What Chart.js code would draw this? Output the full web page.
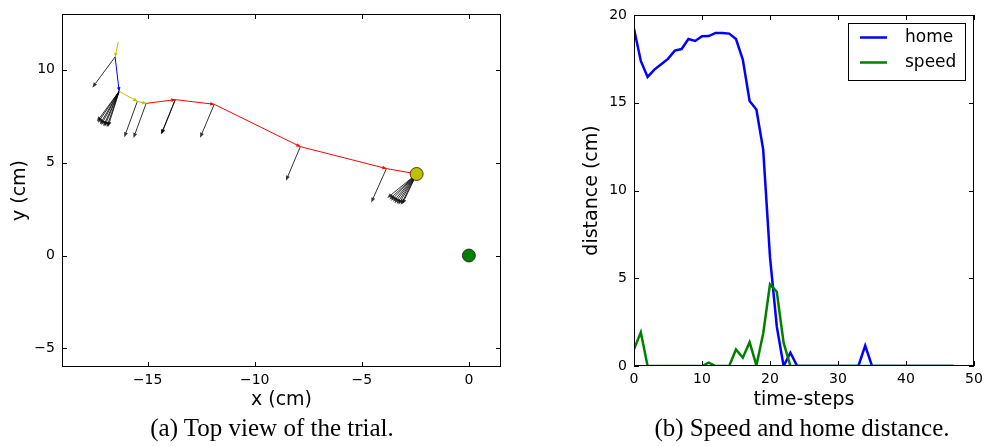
<!DOCTYPE html>
<html>
<head>
<meta charset="utf-8">
<script src="https://cdn.jsdelivr.net/npm/chart.js@4.4.1/dist/chart.umd.min.js"></script>
<style>
  body { margin: 0; background: #fff; }
  #page { position: relative; width: 984px; height: 447px; overflow: hidden; }
  .panel { position: absolute; top: 0; height: 415px; }
  #left { left: 0; width: 520px; }
  #right { left: 520px; width: 464px; }
  .caption {
    position: absolute; top: 413px; height: 30px; line-height: 30px; width: 340px;
    font-family: "Liberation Serif", "Times New Roman", serif; font-size: 25px;
    color: #000; text-align: center; white-space: nowrap;
  }
  #capA { left: 102px; }
  #capB { left: 632px; }
</style>
</head>
<body>
<div id="page">
  <div class="panel" id="left"><canvas id="topView"></canvas></div>
  <div class="panel" id="right"><canvas id="distPlot"></canvas></div>
  <div class="caption" id="capA">(a) Top view of the trial.</div>
  <div class="caption" id="capB">(b) Speed and home distance.</div>
</div>
<script>
// ========== TOP VIEW DATA (cm) ==========
const pathX = [-16.37, -16.52, -16.33, -15.48, -15.07, -13.71, -11.89, -7.87, -3.85, -2.44];
const pathY = [11.50, 10.69, 8.84, 8.30, 8.19, 8.39, 8.14, 5.86, 4.68, 4.39];
// colour of each segment, from point i to point i+1
const segColors = ["#bfbf00", "#0000ff", "#bfbf00", "#bfbf00", "#ff0000",
                   "#ff0000", "#ff0000", "#ff0000", "#ff0000"];
// heading arrows: start point and vector
const arrowX = [-16.52,
  -16.33, -16.33, -16.33, -16.33, -16.33, -16.33, -16.33, -16.33,
  -15.48, -15.07, -13.71, -13.71, -11.89, -7.87, -3.85,
  -2.44, -2.44, -2.44, -2.44, -2.44, -2.44, -2.44, -2.44, -2.44];
const arrowY = [10.69,
  8.84, 8.84, 8.84, 8.84, 8.84, 8.84, 8.84, 8.84,
  8.30, 8.19, 8.39, 8.39, 8.14, 5.86, 4.68,
  4.39, 4.39, 4.39, 4.39, 4.39, 4.39, 4.39, 4.39, 4.39];
const arrowU = [-1.06,
  -1.04, -0.99, -0.90, -0.84, -0.74, -0.68, -0.58, -0.52,
  -0.61, -0.59, -0.67, -0.64, -0.66, -0.67, -0.71,
  -1.37, -1.27, -1.20, -1.10, -1.03, -0.93, -0.85, -0.74, -0.67];
const arrowV = [-1.65,
  -1.63, -1.69, -1.78, -1.82, -1.88, -1.89, -1.93, -1.91,
  -1.93, -1.86, -1.88, -1.85, -1.80, -1.83, -1.83,
  -1.29, -1.37, -1.44, -1.50, -1.57, -1.61, -1.65, -1.66, -1.63];
const homeX = [0];
const homeY = [0];
const xTicksA = [-15, -10, -5, 0];
const yTicksA = [-5, 0, 5, 10];

// ========== SPEED / HOME DISTANCE DATA ==========
const timeSteps = [0, 1, 2, 3, 4, 5, 6, 7, 8, 9, 10, 11, 12, 13, 14, 15, 16, 17, 18, 19,
  20, 21, 22, 23, 24, 25, 26, 27, 28, 29, 30, 31, 32, 33, 34, 35, 36, 37, 38, 39,
  40, 41, 42, 43, 44, 45, 46, 47];
const homeDist = [19.22, 17.38, 16.47, 16.89, 17.19, 17.50, 17.97, 18.06, 18.63, 18.52,
  18.79, 18.80, 18.98, 18.98, 18.94, 18.63, 17.46, 15.10, 14.61, 12.33,
  6.20, 2.24, 0, 0.76, 0, 0, 0, 0, 0, 0,
  0, 0, 0, 0, 1.16, 0, 0, 0, 0, 0,
  0, 0, 0, 0, 0, 0, 0, 0];
const speedVals = [0.95, 1.92, 0, 0, 0, 0, 0, 0, 0, 0,
  0, 0.19, 0, 0, 0, 0.94, 0.47, 1.36, 0.03, 1.85,
  4.65, 4.23, 1.33, 0, 0, 0, 0, 0, 0, 0,
  0, 0, 0, 0, 0, 0, 0, 0, 0, 0,
  0, 0, 0, 0, 0, 0, 0, 0];
const xTicksB = [0, 10, 20, 30, 40, 50];
const yTicksB = [0, 5, 10, 15, 20];

Chart.defaults.font.family = "'DejaVu Sans', sans-serif";
Chart.defaults.color = "#000";

function fmt(v) {
  return v < 0 ? "\u2212" + Math.abs(v) : String(v);
}

function drawArrow(ctx, x0, y0, x1, y1, len, half) {
  const ang = Math.atan2(y1 - y0, x1 - x0);
  const bx = x1 - len * Math.cos(ang), by = y1 - len * Math.sin(ang);
  ctx.beginPath();
  ctx.moveTo(x0, y0);
  ctx.lineTo(bx, by);
  ctx.stroke();
  ctx.beginPath();
  ctx.moveTo(x1, y1);
  ctx.lineTo(bx + half * Math.sin(ang), by - half * Math.cos(ang));
  ctx.lineTo(bx - half * Math.sin(ang), by + half * Math.cos(ang));
  ctx.closePath();
  ctx.fill();
}

// box with inward ticks on all four sides
const framePlugin = {
  id: "frame",
  afterDatasetsDraw(chart) {
    const { ctx, chartArea: a, scales } = chart;
    ctx.save();
    ctx.strokeStyle = "#000";
    ctx.lineWidth = 1;
    ctx.strokeRect(a.left + 0.5, a.top + 0.5, a.width - 1, a.height - 1);
    ctx.beginPath();
    scales.x.ticks.forEach((t) => {
      const px = Math.round(scales.x.getPixelForValue(t.value)) + 0.5;
      ctx.moveTo(px, a.bottom); ctx.lineTo(px, a.bottom - 5);
      ctx.moveTo(px, a.top); ctx.lineTo(px, a.top + 5);
    });
    scales.y.ticks.forEach((t) => {
      const py = Math.round(scales.y.getPixelForValue(t.value)) + 0.5;
      ctx.moveTo(a.left, py); ctx.lineTo(a.left + 5, py);
      ctx.moveTo(a.right, py); ctx.lineTo(a.right - 5, py);
    });
    ctx.stroke();
    ctx.restore();
  },
};

// heading arrows and path heads, both under the markers
const quiverPlugin = {
  id: "quiver",
  beforeDatasetsDraw(chart) {
    const { ctx, scales: { x, y } } = chart;
    ctx.save();
    ctx.strokeStyle = "rgba(0,0,0,0.8)";
    ctx.fillStyle = "rgba(0,0,0,0.8)";
    ctx.lineWidth = 1;
    arrowX.forEach((ax, i) => {
      drawArrow(ctx,
        x.getPixelForValue(ax), y.getPixelForValue(arrowY[i]),
        x.getPixelForValue(ax + arrowU[i]), y.getPixelForValue(arrowY[i] + arrowV[i]),
        5, 2);
    });
    // small heads at the end of each path segment
    for (let i = 0; i < pathX.length - 1; i++) {
      const x0 = x.getPixelForValue(pathX[i]), y0 = y.getPixelForValue(pathY[i]);
      const x1 = x.getPixelForValue(pathX[i + 1]), y1 = y.getPixelForValue(pathY[i + 1]);
      const ang = Math.atan2(y1 - y0, x1 - x0);
      const bx = x1 - 4 * Math.cos(ang), by = y1 - 4 * Math.sin(ang);
      ctx.fillStyle = segColors[i];
      ctx.beginPath();
      ctx.moveTo(x1, y1);
      ctx.lineTo(bx + 1.8 * Math.sin(ang), by - 1.8 * Math.cos(ang));
      ctx.lineTo(bx - 1.8 * Math.sin(ang), by + 1.8 * Math.cos(ang));
      ctx.closePath();
      ctx.fill();
    }
    ctx.restore();
  },
};

// framed legend in the upper right corner
const boxLegend = {
  id: "boxLegend",
  afterDraw(chart) {
    const { ctx, chartArea: a } = chart;
    const w = 117, h = 57;
    const left = a.right - 9 - w, top = a.top + 8;
    ctx.save();
    ctx.fillStyle = "#fff";
    ctx.fillRect(left, top, w, h);
    ctx.strokeStyle = "#000";
    ctx.lineWidth = 1;
    ctx.strokeRect(left + 0.5, top + 0.5, w, h);
    ctx.font = "17px 'DejaVu Sans'";
    ctx.textBaseline = "middle";
    chart.data.datasets.forEach((ds, i) => {
      const yy = top + 14.5 + i * 25;
      ctx.strokeStyle = ds.borderColor;
      ctx.lineWidth = 2.5;
      ctx.beginPath();
      ctx.moveTo(left + 12, yy);
      ctx.lineTo(left + 39, yy);
      ctx.stroke();
      ctx.fillStyle = "#000";
      ctx.fillText(ds.label, left + 57, yy);
    });
    ctx.restore();
  },
};

function fixedTicks(list) {
  return (s) => { s.ticks = list.map((v) => ({ value: v })); };
}
function fixedWidth(w) {
  return (s) => { s.width = w; s.paddingTop = 0; s.paddingBottom = 0; };
}
function fixedHeight(h) {
  return (s) => { s.height = h; s.paddingLeft = 0; s.paddingRight = 0; };
}
const tickFont = { size: 14 };
const titleFont = { size: 19 };

// ========== (a) TOP VIEW ==========
new Chart(document.getElementById("topView"), {
  type: "scatter",
  data: {
    datasets: [
      {
        data: pathX.map((v, i) => ({ x: v, y: pathY[i] })),
        showLine: true,
        borderWidth: 1,
        borderColor: segColors[0],
        segment: { borderColor: (c) => segColors[c.p0DataIndex] },
        pointRadius: 0,
        order: 2,
      },
      {
        data: homeX.map((v, i) => ({ x: v, y: homeY[i] })),
        pointRadius: 6.5,
        backgroundColor: "#008000",
        borderColor: "#1a1a1a",
        borderWidth: 0.8,
        order: 0,
      },
      {
        data: [{ x: pathX[pathX.length - 1], y: pathY[pathY.length - 1] }],
        pointRadius: 6.5,
        backgroundColor: "#bfbf00",
        borderColor: "#1a1a1a",
        borderWidth: 0.8,
        order: 1,
      },
    ],
  },
  options: {
    responsive: true,
    maintainAspectRatio: false,
    animation: false,
    layout: { padding: { top: 14, right: 19, left: 0, bottom: 0 } },
    plugins: { legend: { display: false }, tooltip: { enabled: false } },
    scales: {
      x: {
        type: "linear", min: -19, max: 1.5,
        afterBuildTicks: fixedTicks(xTicksA),
        afterFit: fixedHeight(48),
        grid: { display: false, drawTicks: false },
        border: { display: false },
        ticks: { font: tickFont, padding: 5, maxRotation: 0, autoSkip: false, callback: fmt },
        title: { display: true, text: "x (cm)", font: titleFont, padding: { top: 0, bottom: 4 } },
      },
      y: {
        type: "linear", min: -6, max: 13,
        afterBuildTicks: fixedTicks(yTicksA),
        afterFit: fixedWidth(62),
        grid: { display: false, drawTicks: false },
        border: { display: false },
        ticks: { font: tickFont, padding: 7, autoSkip: false, callback: fmt },
        title: { display: true, text: "y (cm)", font: titleFont, padding: { top: 9, bottom: 0 } },
      },
    },
  },
  plugins: [quiverPlugin, framePlugin],
});

// ========== (b) SPEED AND HOME DISTANCE ==========
new Chart(document.getElementById("distPlot"), {
  type: "scatter",
  data: {
    datasets: [
      {
        label: "home",
        data: timeSteps.map((t, i) => ({ x: t, y: homeDist[i] })),
        showLine: true,
        borderColor: "#0000ff",
        borderWidth: 2.5,
        pointRadius: 0,
        order: 1,
      },
      {
        label: "speed",
        data: timeSteps.map((t, i) => ({ x: t, y: speedVals[i] })),
        showLine: true,
        borderColor: "#008000",
        borderWidth: 2.5,
        pointRadius: 0,
        order: 0,
      },
    ],
  },
  options: {
    responsive: true,
    maintainAspectRatio: false,
    animation: false,
    layout: { padding: { top: 15, right: 10, left: 0, bottom: 0 } },
    plugins: { legend: { display: false }, tooltip: { enabled: false } },
    scales: {
      x: {
        type: "linear", min: 0, max: 50,
        afterBuildTicks: fixedTicks(xTicksB),
        afterFit: fixedHeight(49),
        grid: { display: false, drawTicks: false },
        border: { display: false },
        ticks: { font: tickFont, padding: 5, maxRotation: 0, autoSkip: false, callback: fmt },
        title: { display: true, text: "time-steps", font: titleFont, padding: { top: 0, bottom: 4 } },
      },
      y: {
        type: "linear", min: 0, max: 20,
        afterBuildTicks: fixedTicks(yTicksB),
        afterFit: fixedWidth(114),
        grid: { display: false, drawTicks: false },
        border: { display: false },
        ticks: { font: tickFont, padding: 7, autoSkip: false, callback: fmt },
        title: { display: true, text: "distance (cm)", font: titleFont, padding: { top: 61, bottom: 0 } },
      },
    },
  },
  plugins: [framePlugin, boxLegend],
});
</script>
</body>
</html>
